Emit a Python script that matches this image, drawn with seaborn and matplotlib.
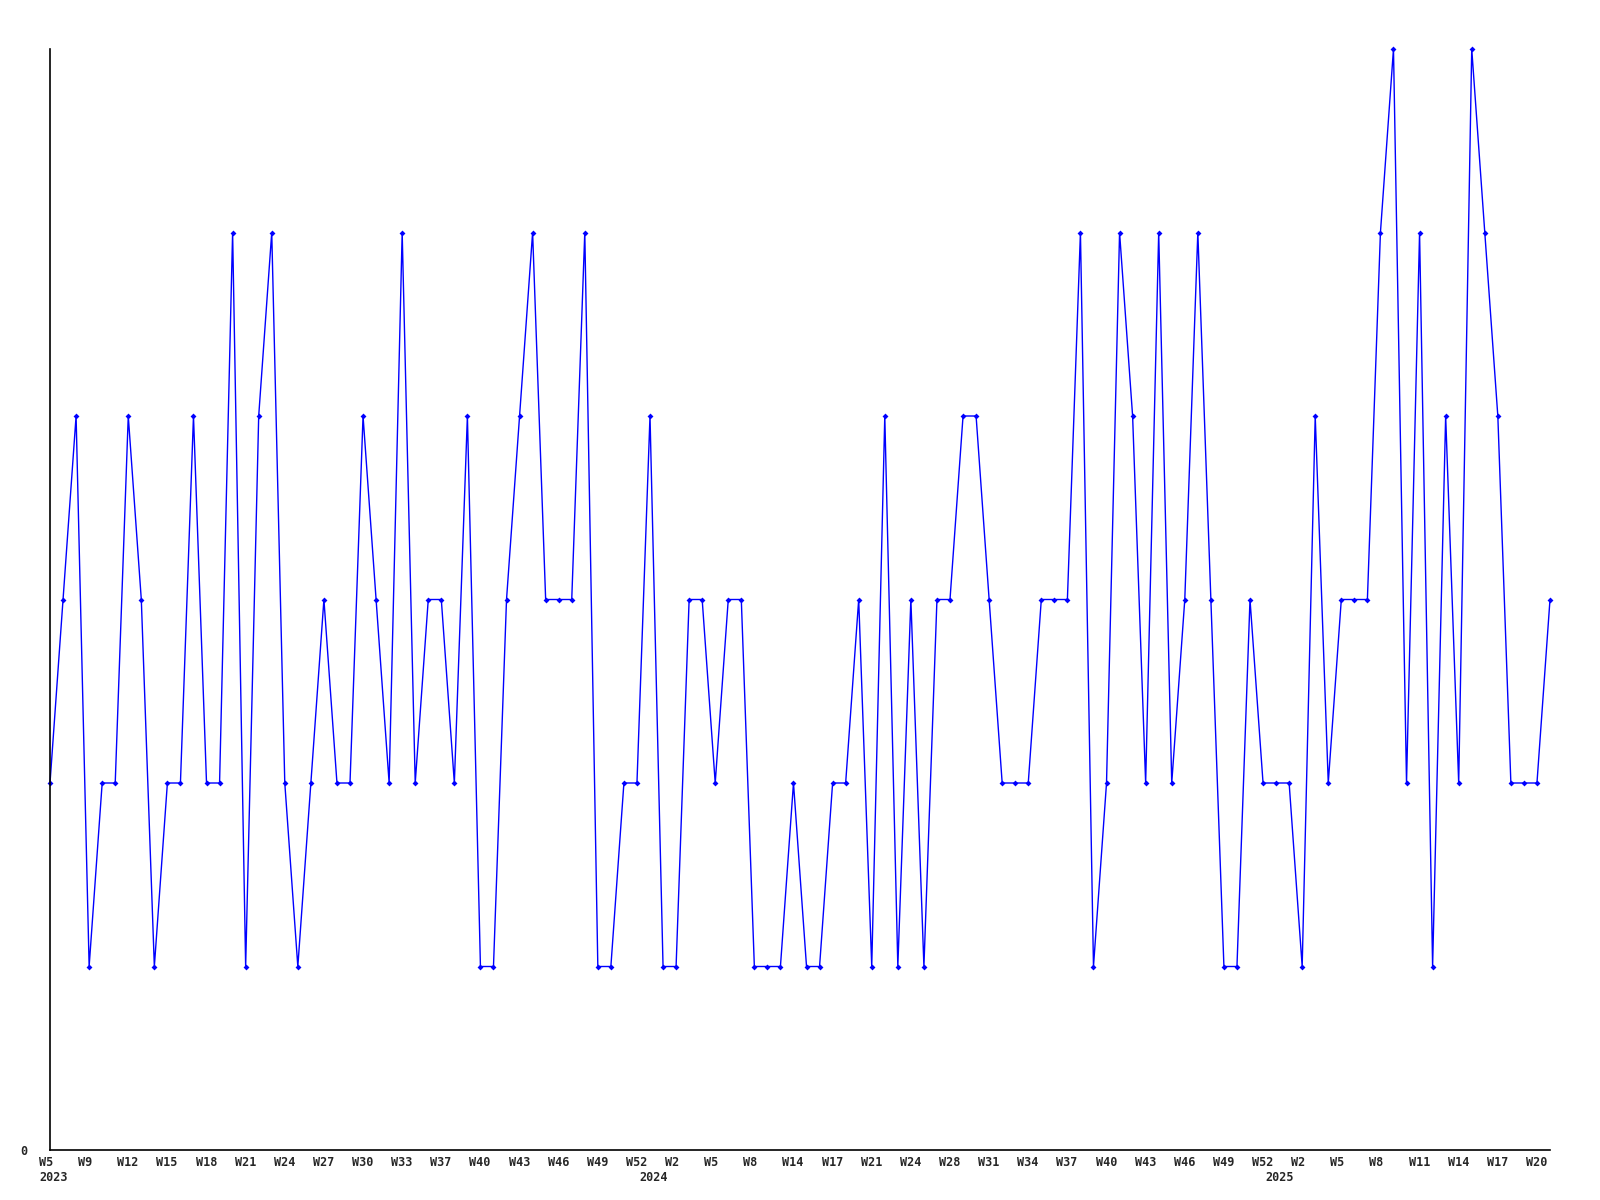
import matplotlib
matplotlib.use("Agg")
import matplotlib.pyplot as plt
import matplotlib.transforms as mtrans
import numpy as np
import pandas as pd
import seaborn as sns

# weekly counts, 2023 W5 .. 2025 W21 (weeks without data are skipped)
counts_2023 = [2, 3, 4, 1, 2, 2, 4, 3, 1, 2, 2, 4, 2, 2, 5, 1, 4, 5, 2, 1,
               2, 3, 2, 2, 4, 3, 2, 5, 2, 3, 3, 2, 4, 1, 1, 3, 4, 5, 3, 3,
               3, 5, 1, 1, 2, 2]
counts_2024 = [4, 1, 1, 3, 3, 2, 3, 3, 1, 1, 1, 2, 1, 1, 2, 2, 3, 1, 4, 1,
               3, 1, 3, 3, 4, 4, 3, 2, 2, 2, 3, 3, 3, 5, 1, 2, 5, 4, 2, 5,
               2, 3, 5, 3, 1, 1, 3, 2]
counts_2025 = [2, 2, 1, 4, 2, 3, 3, 3, 5, 6, 2, 5, 1, 4, 2, 6, 5, 4, 2, 2,
               2, 3]
counts = counts_2023 + counts_2024 + counts_2025

# every third week gets a label
week_ticks = ["W5", "W9", "W12", "W15", "W18", "W21", "W24", "W27", "W30",
              "W33", "W37", "W40", "W43", "W46", "W49", "W52",
              "W2", "W5", "W8", "W14", "W17", "W21", "W24", "W28", "W31",
              "W34", "W37", "W40", "W43", "W46", "W49", "W52",
              "W2", "W5", "W8", "W11", "W14", "W17", "W20"]
years = ["2023", "2024", "2025"]
year_first = [0, len(counts_2023), len(counts_2023) + len(counts_2024)]

df = pd.DataFrame({"idx": np.arange(len(counts)), "count": counts})

sns.set_style("white")
plt.rcParams["font.family"] = ["DejaVu Sans Mono", "DejaVu Sans"]

fig = plt.figure(figsize=(16, 12), dpi=100)
ax = fig.add_axes([50 / 1600, 50 / 1200, 1500 / 1600, 1101 / 1200])

sns.lineplot(data=df, x="idx", y="count", ax=ax, color="#0000ff", linewidth=1.0,
             marker="D", markersize=3, markeredgewidth=0, clip_on=False)

ax.set_xlim(0, len(counts) - 1)
ax.set_ylim(0, max(counts))
ax.set_xlabel("")
ax.set_ylabel("")

for s in ["top", "right"]:
    ax.spines[s].set_visible(False)
for s in ["left", "bottom"]:
    ax.spines[s].set_color("black")
    ax.spines[s].set_linewidth(1.2)

ax.set_yticks([0])
ax.set_yticklabels(["0"], fontsize=8.5, fontweight="bold")
ax.tick_params(axis="y", length=0, pad=16)

ax.set_xticks(range(0, len(counts), 3))
ax.set_xticklabels(week_ticks, fontsize=8.5, fontweight="bold", ha="left")
ax.tick_params(axis="x", length=0, pad=4)
shift = mtrans.ScaledTranslation(-11 / 100, 0, fig.dpi_scale_trans)
for lab in ax.get_xticklabels():
    lab.set_transform(lab.get_transform() + shift)

ytrans = mtrans.blended_transform_factory(ax.transData, ax.transAxes)
for y, i in zip(years, year_first):
    ax.text(i, 0, y, transform=ytrans + mtrans.ScaledTranslation(-11 / 100, -21 / 100, fig.dpi_scale_trans),
            ha="left", va="top", fontsize=8.5, fontweight="bold")

ax.grid(False)
fig.savefig("out.png", dpi=100)
